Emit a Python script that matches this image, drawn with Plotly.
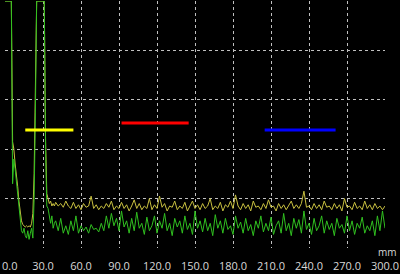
import plotly.graph_objects as go

# distance axis (mm): fine steps near the start, coarser afterwards
x_start = list(range(0, 40))
x_rest = list(range(40, 301, 2))
x_mm = x_start + x_rest

yellow_start = [100, 100, 100, 100, 100, 100, 43, 40, 34, 30,
                25, 19, 15, 11, 9.5, 9, 8.5, 9, 8.5, 9,
                8.5, 10, 14, 30, 60, 100, 100, 100, 100, 100,
                100, 100, 45, 22, 20, 18, 19, 17, 18, 17]
yellow_rest = [18.5, 17, 18, 16.5, 19, 17, 16, 18.5, 16, 17.5,
               15.5, 18, 16.5, 17, 21, 16, 17.5, 15.5, 17, 16,
               18, 16.5, 19, 15.5, 17, 16, 18.5, 16, 17.5, 15,
               17, 19.5, 16, 18, 15.5, 17, 16, 20, 15.5, 17.5,
               16, 21, 16.5, 18, 15, 17, 16.5, 19, 15.5, 17,
               16, 18.5, 15, 17, 19, 16, 17.5, 15.5, 18, 16,
               17, 20, 15.5, 17, 16, 18.5, 15, 17.5, 16.5, 19,
               16, 21.5, 17, 15.5, 18, 16, 17.5, 15, 19, 16.5,
               17, 15.5, 18, 16, 19.5, 16.5, 17, 15, 18, 16,
               17.5, 15.5, 17, 19, 16, 17.5, 16, 18, 23, 16.5,
               17, 15.5, 18, 16, 17.5, 15.5, 19, 16.5, 17, 15.5,
               18, 16, 17.5, 15, 20, 16.5, 17, 15.5, 18.5, 16,
               17, 15.5, 19, 16, 17.5, 15.5, 18, 16, 17, 15.5, 17]

green_start = [100, 100, 100, 100, 100, 100, 26, 36, 32, 27,
               22, 16, 11, 7, 6, 8, 5, 4, 7, 3.5,
               6, 8, 4, 20, 55, 100, 100, 100, 100, 100,
               100, 100, 40, 17, 16, 12, 10, 13, 8, 10]
green_rest = [11, 7, 12, 6, 9, 5.5, 11, 7, 13, 6,
              9, 7, 8.5, 6, 9.5, 7.5, 8, 6.5, 10, 7,
              13, 8, 14, 9, 12, 7, 15, 8.5, 11, 6,
              12, 7, 14.5, 8, 10, 5.5, 12.5, 7, 9, 13,
              6, 11, 8, 14, 7, 10, 5, 12, 8.5, 11,
              6, 13, 7.5, 10, 5.5, 15, 8, 11, 6.5, 12,
              7, 10, 5, 13.5, 8, 11, 6, 12, 7.5, 9,
              5.5, 13, 8, 10.5, 6, 12, 7, 9.5, 5, 11,
              8, 13, 6.5, 10, 7, 12.5, 5.5, 9, 11, 6,
              14, 7, 10, 5, 12, 8, 11.5, 6, 15, 7.5,
              10, 5.5, 12, 7, 9, 13, 6, 11, 7.5, 10,
              5, 12, 8, 9.5, 6, 13, 7, 11, 5.5, 10,
              8, 12.5, 6, 9, 7, 11, 5, 13, 7, 15, 8]

yellow_vals = yellow_start + yellow_rest
green_vals = green_start + green_rest

# gate markers: (start mm, end mm, level)
gate_start = [16, 92, 205]
gate_end = [54, 145, 261]
gate_level = [47.8, 50.6, 47.8]
gate_colors = ["#ffff00", "#ff0000", "#0000ff"]

tick_vals = [0, 30, 60, 90, 120, 150, 180, 210, 240, 270, 300]
tick_text = ["0.0", "30.0", "60.0", "90.0", "120.0", "150.0", "180.0",
             "210.0", "240.0", "270.0", "300.0"]
axis_unit = "mm"

label_color = "#d8d8d8"
label_font = dict(family="Open Sans", size=11, color=label_color)

fig = go.Figure()
fig.add_trace(go.Scatter(x=x_mm, y=yellow_vals, mode="lines",
                         line=dict(color="#c8c040", width=1), showlegend=False))
fig.add_trace(go.Scatter(x=x_mm, y=green_vals, mode="lines",
                         line=dict(color="#30c020", width=1), showlegend=False))
for s, e, lv, c in zip(gate_start, gate_end, gate_level, gate_colors):
    fig.add_trace(go.Scatter(x=[s, e], y=[lv, lv], mode="lines",
                             line=dict(color=c, width=3), showlegend=False))

# first tick label is drawn left-aligned so it stays inside the page
shown_ticks = [""] + tick_text[1:]

fig.update_layout(
    width=400, height=274,
    margin=dict(l=5, r=15, t=1, b=26, autoexpand=False),
    paper_bgcolor="#000000", plot_bgcolor="#000000",
    font=label_font,
    xaxis=dict(range=[0, 300], tickvals=tick_vals, ticktext=shown_ticks,
               ticklabeloverflow="allow", automargin=False,
               ticklabelstandoff=10,
               showgrid=True, gridcolor="#c0c0c0", griddash="dot", gridwidth=1,
               zeroline=False, showline=False, ticks=""),
    yaxis=dict(range=[0, 100], tickvals=[0, 20, 40, 60, 80, 100],
               showticklabels=False, automargin=False,
               showgrid=True, gridcolor="#c0c0c0", griddash="dot", gridwidth=1,
               zeroline=False, showline=False, ticks=""),
    annotations=[
        dict(text=axis_unit, xref="paper", yref="paper", x=1.0, y=-0.016,
             xanchor="right", yanchor="middle", showarrow=False,
             xshift=14, font=dict(family="Open Sans", size=10, color=label_color)),
        dict(text=tick_text[0], xref="paper", yref="paper", x=0.0, y=-0.072,
             xanchor="left", yanchor="middle", showarrow=False,
             xshift=-5, font=label_font),
    ],
)
fig.write_html("out.html")
